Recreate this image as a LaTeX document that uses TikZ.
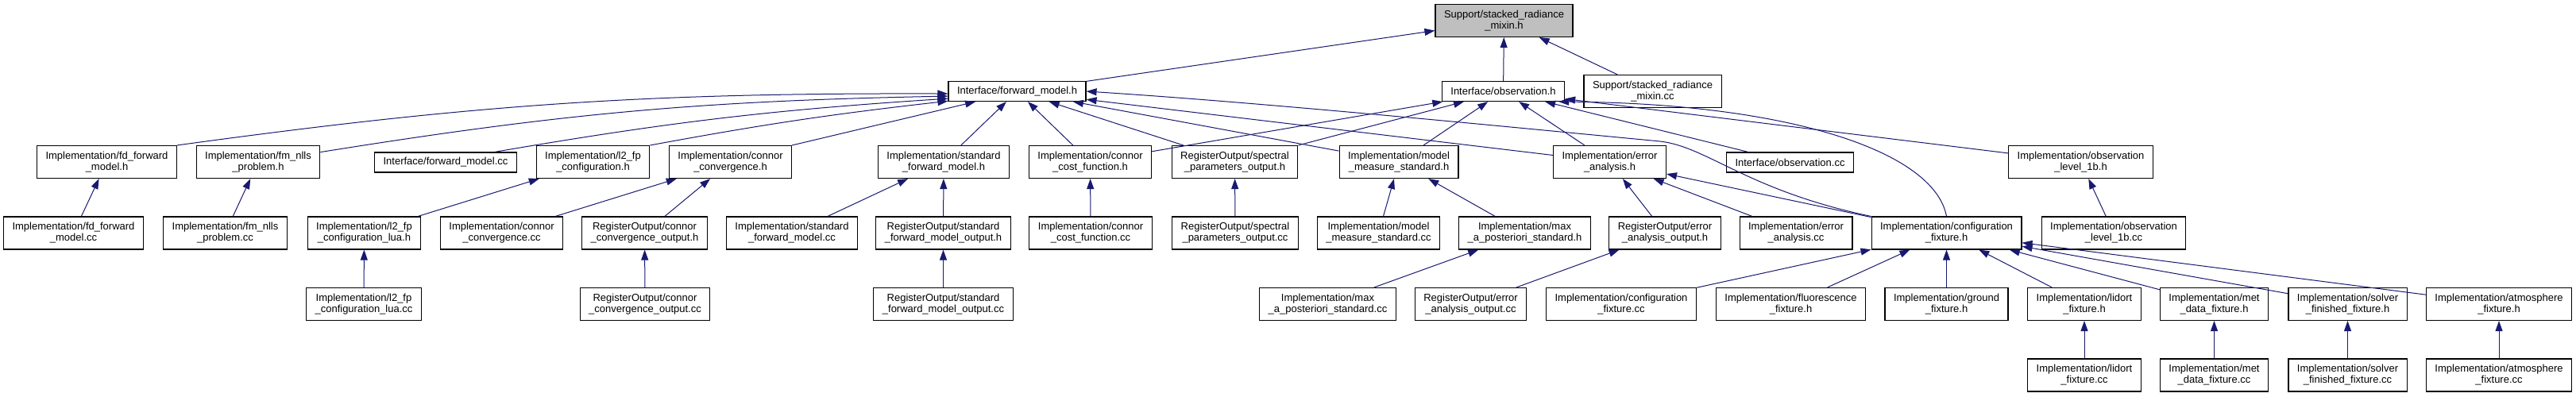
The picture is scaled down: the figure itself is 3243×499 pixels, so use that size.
\documentclass[tikz,border=0pt]{standalone}
\usepackage{fontspec}
\setmainfont{Liberation Sans}
\usetikzlibrary{arrows.meta,calc}
\definecolor{MidBlue}{RGB}{25,25,112}
\definecolor{Gray}{RGB}{191,191,191}

\begin{document}
\begin{tikzpicture}[x=1pt,y=1pt,
  filebox/.style={draw=black,line width=1.1pt,fill=white,align=center,inner xsep=11pt,inner ysep=2pt,minimum height=41pt,font=\fontsize{13}{14}\selectfont},
  onebox/.style={filebox,minimum height=25pt},
  topbox/.style={filebox,fill=Gray},
  incl/.style={-{Triangle[length=13pt,width=9pt]},MidBlue,line width=1pt}]
\useasboundingbox (0,0) rectangle (3243,-499);
% rank 0 and 1
\node[topbox] (mixinh) at (1893.5,-26) {Support/stacked\_radiance\\\_mixin.h};
\node[onebox] (fmh) at (1280.5,-115) {Interface/forward\_model.h};
\node[onebox] (obsh) at (1892.5,-115) {Interface/observation.h};
\node[filebox] (mixincc) at (2080.5,-115) {Support/stacked\_radiance\\\_mixin.cc};
% rank 2
\node[filebox] (fdh) at (134.5,-204) {Implementation/fd\_forward\\\_model.h};
\node[filebox] (nllsh) at (325,-204) {Implementation/fm\_nlls\\\_problem.h};
\node[onebox] (fmcc) at (561,-204.5) {Interface/forward\_model.cc};
\node[filebox] (l2fph) at (746.5,-204) {Implementation/l2\_fp\\\_configuration.h};
\node[filebox] (convh) at (919.5,-204) {Implementation/connor\\\_convergence.h};
\node[filebox] (sfmh) at (1188,-204) {Implementation/standard\\\_forward\_model.h};
\node[filebox] (costh) at (1372.5,-204) {Implementation/connor\\\_cost\_function.h};
\node[filebox] (spech) at (1554.5,-204) {RegisterOutput/spectral\\\_parameters\_output.h};
\node[filebox] (mmsh) at (1761,-204) {Implementation/model\\\_measure\_standard.h};
\node[filebox] (eah) at (2026.5,-204) {Implementation/error\\\_analysis.h};
\node[onebox] (obscc) at (2253.5,-204.5) {Interface/observation.cc};
\node[filebox] (lev1bh) at (2619.5,-204) {Implementation/observation\\\_level\_1b.h};
% rank 3
\node[filebox] (fdcc) at (92.5,-293.5) {Implementation/fd\_forward\\\_model.cc};
\node[filebox] (nllscc) at (283.5,-293.5) {Implementation/fm\_nlls\\\_problem.cc};
\node[filebox] (luah) at (458.5,-293.5) {Implementation/l2\_fp\\\_configuration\_lua.h};
\node[filebox] (convcc) at (631.5,-293.5) {Implementation/connor\\\_convergence.cc};
\node[filebox] (convouth) at (811.5,-293.5) {RegisterOutput/connor\\\_convergence\_output.h};
\node[filebox] (sfmcc) at (997,-293.5) {Implementation/standard\\\_forward\_model.cc};
\node[filebox] (sfmouth) at (1187.5,-293.5) {RegisterOutput/standard\\\_forward\_model\_output.h};
\node[filebox] (costcc) at (1373,-293.5) {Implementation/connor\\\_cost\_function.cc};
\node[filebox] (speccc) at (1555,-293.5) {RegisterOutput/spectral\\\_parameters\_output.cc};
\node[filebox] (mmscc) at (1735.5,-293.5) {Implementation/model\\\_measure\_standard.cc};
\node[filebox] (maph) at (1919.5,-293.5) {Implementation/max\\\_a\_posteriori\_standard.h};
\node[filebox] (eaouth) at (2096,-293.5) {RegisterOutput/error\\\_analysis\_output.h};
\node[filebox] (eacc) at (2261,-293.5) {Implementation/error\\\_analysis.cc};
\node[filebox] (cfgh) at (2450.5,-293.5) {Implementation/configuration\\\_fixture.h};
\node[filebox] (lev1bcc) at (2661,-293.5) {Implementation/observation\\\_level\_1b.cc};
% rank 4
\node[filebox] (luacc) at (458,-383) {Implementation/l2\_fp\\\_configuration\_lua.cc};
\node[filebox] (convoutcc) at (812,-383) {RegisterOutput/connor\\\_convergence\_output.cc};
\node[filebox] (sfmoutcc) at (1187.5,-383) {RegisterOutput/standard\\\_forward\_model\_output.cc};
\node[filebox] (mapcc) at (1671.5,-383) {Implementation/max\\\_a\_posteriori\_standard.cc};
\node[filebox] (eaoutcc) at (1851.5,-383) {RegisterOutput/error\\\_analysis\_output.cc};
\node[filebox] (cfgcc) at (2041,-383) {Implementation/configuration\\\_fixture.cc};
\node[filebox] (fluoh) at (2254.5,-383) {Implementation/fluorescence\\\_fixture.h};
\node[filebox] (groundh) at (2450.5,-383) {Implementation/ground\\\_fixture.h};
\node[filebox] (lidorth) at (2624,-383) {Implementation/lidort\\\_fixture.h};
\node[filebox] (meth) at (2787.5,-383) {Implementation/met\\\_data\_fixture.h};
\node[filebox] (solverh) at (2955.5,-383) {Implementation/solver\\\_finished\_fixture.h};
\node[filebox] (atmh) at (3146,-383) {Implementation/atmosphere\\\_fixture.h};
% rank 5
\node[filebox] (lidortcc) at (2624,-472.5) {Implementation/lidort\\\_fixture.cc};
\node[filebox] (metcc) at (2787.5,-472.5) {Implementation/met\\\_data\_fixture.cc};
\node[filebox] (solvercc) at (2955.5,-472.5) {Implementation/solver\\\_finished\_fixture.cc};
\node[filebox] (atmcc) at (3146,-472.5) {Implementation/atmosphere\\\_fixture.cc};
% includes
\draw[incl] (fmh)--(mixinh); \draw[incl] (obsh)--(mixinh); \draw[incl] (mixincc)--(mixinh);
\draw[incl] (fdh.north east) to[bend left=4] (fmh.182); \draw[incl] (nllsh.9) to[bend left=4] (fmh.184); \draw[incl] (fmcc.12) to[bend left=3] (fmh.186); \draw[incl] (l2fph.north east) to[bend left=2] (fmh.188); \draw[incl] (convh.north east)--(fmh.194);
\draw[incl] (sfmh)--(fmh); \draw[incl] (costh)--(fmh); \draw[incl] (spech)--(fmh); \draw[incl] (mmsh)--(fmh); \draw[incl] (eah)--(fmh);
\draw[incl] (cfgh.north west) .. controls (2200,-240) and (2150,-185) .. (2090,-178) .. controls (1900,-160) and (1600,-130) .. (fmh.east);
\draw[incl] (costh)--(obsh); \draw[incl] (spech)--(obsh); \draw[incl] (mmsh)--(obsh); \draw[incl] (eah)--(obsh); \draw[incl] (obscc)--(obsh); \draw[incl] (lev1bh)--(obsh);
\draw[incl] (cfgh.north) .. controls (2435,-190) and (2250,-130) .. ($(obsh.south east)+(-8,0)$);
\draw[incl] (fdcc)--(fdh); \draw[incl] (nllscc)--(nllsh); \draw[incl] (luah)--(l2fph); \draw[incl] (luacc)--(luah);
\draw[incl] (convcc)--(convh); \draw[incl] (convouth)--(convh); \draw[incl] (convoutcc)--(convouth);
\draw[incl] (sfmcc)--(sfmh); \draw[incl] (sfmouth)--(sfmh); \draw[incl] (sfmoutcc)--(sfmouth);
\draw[incl] (costcc)--(costh); \draw[incl] (speccc)--(spech);
\draw[incl] (mmscc)--(mmsh); \draw[incl] (maph)--(mmsh); \draw[incl] (mapcc)--(maph);
\draw[incl] (eaouth)--(eah); \draw[incl] (eacc)--(eah); \draw[incl] (cfgh)--(eah); \draw[incl] (eaoutcc)--(eaouth);
\draw[incl] (lev1bcc)--(lev1bh);
\draw[incl] (cfgcc)--(cfgh); \draw[incl] (fluoh)--(cfgh); \draw[incl] (groundh)--(cfgh); \draw[incl] (lidorth)--(cfgh); \draw[incl] (meth)--(cfgh); \draw[incl] (solverh)--(cfgh); \draw[incl] (atmh)--(cfgh);
\draw[incl] (lidortcc)--(lidorth); \draw[incl] (metcc)--(meth); \draw[incl] (solvercc)--(solverh); \draw[incl] (atmcc)--(atmh);
\end{tikzpicture}
\end{document}
